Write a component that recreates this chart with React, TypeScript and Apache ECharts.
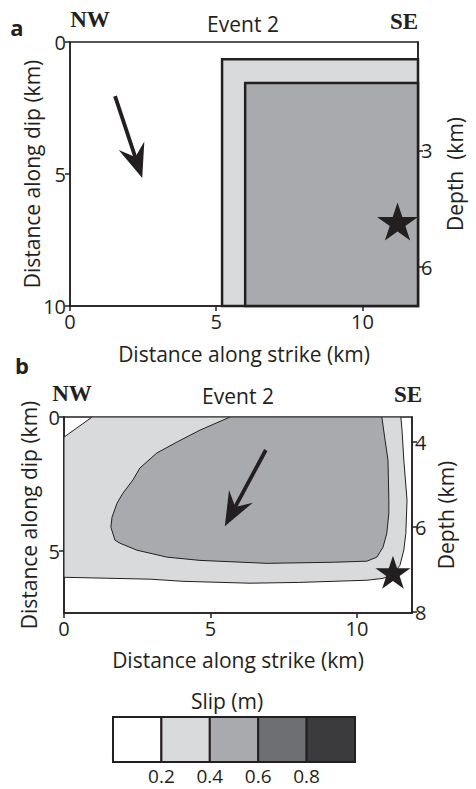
import React, { useEffect, useRef } from "react";
import * as echarts from "echarts";

// ---------- data ----------
const strikeTicks = [0, 5, 10];
const dipTicksA = [0, 5, 10];
const dipTicksB = [0, 5];
const depthTicksA = [3, 6];
const depthTicksB = [4, 6, 8];

// panel a: uniform-slip patches (left edge, top edge, slip in m) extending to fault edge
const patchLeftA = [5.2, 5.99];
const patchTopA = [0.65, 1.55];
const patchSlipA = [0.3, 0.5];
const hypoA = [11.2, 6.8];
const arrowA = [1.54, 2.05, 2.47, 5.15];

// panel b: slip contours
const contour02B = [
  [0, 0.75], [0.96, 0], [11.5, 0], [11.54, 0.49], [11.6, 1.6], [11.71, 3.1],
  [11.67, 4.33], [11.6, 4.96], [11.47, 5.52], [11.23, 5.86], [10.89, 6.01],
  [10.34, 6.08], [8.05, 6.16], [6.35, 6.19], [4.06, 6.12], [2.94, 6.04], [0, 5.97],
];
const contour04B = [
  [5.67, 0], [4.64, 0.49], [3.86, 0.93], [3.17, 1.34], [2.59, 1.9], [2.35, 2.35],
  [2.01, 2.84], [1.81, 3.21], [1.64, 3.73], [1.6, 4.1], [1.74, 4.59], [1.91, 4.7],
  [2.49, 4.96], [3.52, 5.22], [4.64, 5.34], [6.93, 5.45], [9.18, 5.41], [10.34, 5.37],
  [10.68, 5.22], [10.89, 4.85], [11.02, 4.33], [11.09, 3.58], [11.09, 3.1],
  [11.06, 1.6], [10.96, 0.86], [10.85, 0],
];
const contourSlipB = [0.3, 0.5];
const hypoB = [11.23, 5.78];
const arrowB = [6.89, 1.23, 5.49, 4.07];

// colour scale
const slipBreaks = [0.2, 0.4, 0.6, 0.8];
const slipColors = ["#ffffff", "#d9dadc", "#a9aaad", "#6e6f73", "#3b3b3d"];

const INK = "#231f20";
const FONT = "Open Sans";
const SERIF = "Liberation Serif";
const STAR =
  "path://M50 0 L61.23 34.55 L97.55 34.55 L68.16 55.9 L79.39 90.45 L50 69.1 L20.61 90.45 L31.84 55.9 L2.45 34.55 L38.77 34.55 Z";

function slipColor(s: number) {
  let i = 0;
  while (i < slipBreaks.length && s >= slipBreaks[i]) i++;
  return slipColors[i];
}

function axisCommon(extra: any) {
  return {
    type: "value",
    splitLine: { show: false },
    axisLine: { show: true, onZero: false, lineStyle: { color: INK, width: 1.5 } },
    axisTick: { show: true, inside: false, length: 5, lineStyle: { color: INK, width: 1.5 } },
    axisLabel: { color: INK, fontSize: 20, fontFamily: FONT, margin: 6 },
    nameLocation: "middle",
    nameMoveOverlap: false,
    nameTextStyle: { color: INK, fontSize: 21, fontFamily: FONT },
    ...extra,
  };
}

function arrowRender(params: any, api: any) {
  const s = api.coord([api.value(0), api.value(1)]);
  const t = api.coord([api.value(2), api.value(3)]);
  const dx = t[0] - s[0];
  const dy = t[1] - s[1];
  const L = Math.hypot(dx, dy);
  const ux = dx / L, uy = dy / L;
  const nx = -uy, ny = ux;
  const headLen = 34, headW = 13.5, notch = 22;
  const base = [t[0] - ux * headLen, t[1] - uy * headLen];
  const np = [t[0] - ux * notch, t[1] - uy * notch];
  return {
    type: "group",
    children: [
      { type: "line", shape: { x1: s[0], y1: s[1], x2: np[0], y2: np[1] }, style: { stroke: INK, lineWidth: 3.8 } },
      {
        type: "polygon",
        shape: { points: [t, [base[0] + nx * headW, base[1] + ny * headW], np, [base[0] - nx * headW, base[1] - ny * headW]] },
        style: { fill: INK },
      },
    ],
  };
}

export default function App() {
  const ref = useRef<HTMLDivElement>(null);
  useEffect(() => {
    if (!ref.current) return;
    const chart = echarts.init(ref.current, null, { renderer: "svg" });
    const xMaxA = 11.9, yMaxA = 10;
    const xMaxB = 11.88, yMaxB = 7.3;
    const contoursB = [contour02B, contour04B];

    const label = (text: string, x: number, y: number, size: number, bold: boolean, family: string) => ({
      type: "text",
      x,
      y,
      style: {
        text,
        fontSize: size,
        fontWeight: bold ? "bold" : "normal",
        fontFamily: family,
        fill: INK,
        textAlign: "center",
        textVerticalAlign: "middle",
      },
    });

    // legend graphic
    const legendX = 113, legendY = 717, boxW = 48.4, boxH = 45;
    const legendEls: any[] = [];
    slipColors.forEach((c, i) => {
      legendEls.push({
        type: "rect",
        shape: { x: legendX + i * boxW, y: legendY, width: boxW, height: boxH },
        style: { fill: c, stroke: INK, lineWidth: 2 },
      });
    });
    slipBreaks.forEach((b, i) => {
      legendEls.push(label(b.toFixed(1), legendX + (i + 1) * boxW, 776, 19, false, FONT));
    });

    chart.setOption({
      animation: false,
      backgroundColor: "#ffffff",
      grid: [
        { left: 70, top: 42, width: 348, height: 264, show: true, borderColor: INK, borderWidth: 1.5, backgroundColor: "transparent" },
        { left: 64, top: 417, width: 348, height: 196, show: true, borderColor: INK, borderWidth: 1.5, backgroundColor: "transparent" },
      ],
      xAxis: [
        axisCommon({
          gridIndex: 0, min: 0, max: xMaxA, name: "Distance along strike (km)", nameGap: 37,
          axisLabel: { color: INK, fontSize: 20, fontFamily: FONT, margin: 5, customValues: strikeTicks },
          axisTick: { show: true, length: 5, lineStyle: { color: INK, width: 1.5 }, customValues: strikeTicks },
        }),
        axisCommon({
          gridIndex: 1, min: 0, max: xMaxB, name: "Distance along strike (km)", nameGap: 36,
          axisLabel: { color: INK, fontSize: 20, fontFamily: FONT, margin: 5, customValues: strikeTicks },
          axisTick: { show: true, length: 5, lineStyle: { color: INK, width: 1.5 }, customValues: strikeTicks },
        }),
      ],
      yAxis: [
        axisCommon({
          gridIndex: 0, min: 0, max: yMaxA, inverse: true, position: "left", name: "Distance along dip (km)", nameGap: 28, nameRotate: 90,
          axisLabel: { color: INK, fontSize: 20, fontFamily: FONT, margin: 4, customValues: dipTicksA },
          axisTick: { show: true, length: 5, lineStyle: { color: INK, width: 1.5 }, customValues: dipTicksA },
        }),
        axisCommon({
          gridIndex: 0, min: 0.2, max: 7.0, inverse: true, position: "right", name: "Depth  (km)", nameGap: 26, nameRotate: 90,
          axisLabel: { color: INK, fontSize: 20, fontFamily: FONT, margin: 3, customValues: depthTicksA },
          axisTick: { show: true, length: 5, lineStyle: { color: INK, width: 1.5 }, customValues: depthTicksA },
        }),
        axisCommon({
          gridIndex: 1, min: 0, max: yMaxB, inverse: true, position: "left", name: "Distance along dip (km)", nameGap: 25, nameRotate: 90,
          axisLabel: { color: INK, fontSize: 20, fontFamily: FONT, margin: 4, customValues: dipTicksB },
          axisTick: { show: true, length: 5, lineStyle: { color: INK, width: 1.5 }, customValues: dipTicksB },
        }),
        axisCommon({
          gridIndex: 1, min: 3.41, max: 8.02, inverse: true, position: "right", name: "Depth (km)", nameGap: 23, nameRotate: 90,
          axisLabel: { color: INK, fontSize: 20, fontFamily: FONT, margin: 3, customValues: depthTicksB },
          axisTick: { show: true, length: 5, lineStyle: { color: INK, width: 1.5 }, customValues: depthTicksB },
        }),
      ],
      graphic: [
        label("a", 17, 27, 22, true, FONT),
        label("NW", 90, 19, 23, true, SERIF),
        label("Event 2", 243, 24, 21, false, FONT),
        label("SE", 404, 21, 23, true, SERIF),
        label("b", 22, 365, 22, true, FONT),
        label("NW", 72, 393, 23, true, SERIF),
        label("Event 2", 238, 396, 21, false, FONT),
        label("SE", 408, 394, 23, true, SERIF),
        label("Slip (m)", 227, 701, 21, false, FONT),
        ...legendEls,
      ],
      series: [
        {
          type: "custom",
          xAxisIndex: 0,
          yAxisIndex: 0,
          clip: false,
          data: patchLeftA.map((x, i) => [x, patchTopA[i], patchSlipA[i]]),
          renderItem: (params: any, api: any) => {
            const p0 = api.coord([api.value(0), api.value(1)]);
            const p1 = api.coord([xMaxA, yMaxA]);
            return {
              type: "rect",
              shape: { x: p0[0], y: p0[1], width: p1[0] - p0[0], height: p1[1] - p0[1] },
              style: { fill: slipColor(api.value(2)), stroke: INK, lineWidth: 2.5 },
            };
          },
        },
        {
          type: "custom",
          xAxisIndex: 0,
          yAxisIndex: 0,
          data: [arrowA],
          renderItem: arrowRender,
        },
        {
          type: "scatter",
          xAxisIndex: 0,
          yAxisIndex: 0,
          data: [hypoA],
          symbol: STAR,
          symbolSize: [41, 38],
          itemStyle: { color: INK, opacity: 1 },
        },
        {
          type: "custom",
          xAxisIndex: 1,
          yAxisIndex: 2,
          clip: true,
          data: contourSlipB.map((s, i) => [i, s]),
          renderItem: (params: any, api: any) => {
            const idx = api.value(0);
            const pts = contoursB[idx].map((p) => api.coord(p));
            return {
              type: "polygon",
              shape: { points: pts },
              style: { fill: slipColor(api.value(1)), stroke: INK, lineWidth: 1 },
            };
          },
        },
        {
          type: "custom",
          xAxisIndex: 1,
          yAxisIndex: 2,
          data: [arrowB],
          renderItem: arrowRender,
        },
        {
          type: "scatter",
          xAxisIndex: 1,
          yAxisIndex: 2,
          data: [hypoB],
          symbol: STAR,
          symbolSize: [35, 33],
          itemStyle: { color: INK, opacity: 1 },
        },
      ],
    });
    return () => chart.dispose();
  }, []);
  return (
    <div
      ref={ref}
      style={{ position: "fixed", left: 0, top: 0, width: 476, height: 789, background: "#fff" }}
    />
  );
}
